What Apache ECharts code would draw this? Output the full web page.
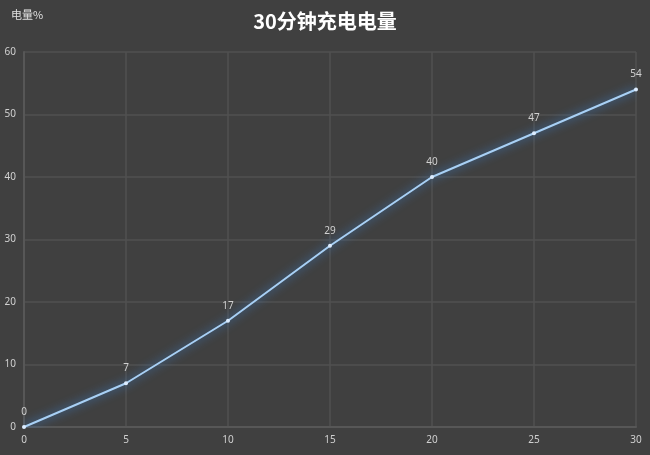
<!DOCTYPE html>
<html><head><meta charset="utf-8">
<script src="https://cdn.jsdelivr.net/npm/echarts@6/dist/echarts.min.js"></script>
<style>html,body{margin:0;padding:0;background:#404040;}#c{width:650px;height:455px;}</style>
</head><body><div id="c"></div>
<script>
const minutes = [0, 5, 10, 15, 20, 25, 30];
const charge = [0, 7, 17, 29, 40, 47, 54];
const title = '30分钟充电电量';
const yName = '电量%';

const chart = echarts.init(document.getElementById('c'));
chart.setOption({
  backgroundColor: '#404040',
  animation: false,
  title: {
    text: title, left: 'center', top: 6,
    textStyle: {color: '#ffffff', fontSize: 20, fontWeight: 'bold', fontFamily: 'Noto Sans CJK SC'}
  },
  grid: {left: 24, right: 14, top: 52, bottom: 28},
  xAxis: {
    type: 'value', min: 0, max: 30, interval: 5,
    axisLine: {show: true, lineStyle: {color: '#575757', width: 2}},
    axisTick: {show: false},
    splitLine: {show: true, lineStyle: {color: '#515151', width: 1.5}},
    axisLabel: {color: '#d0d0d0', fontSize: 10, margin: 8, fontFamily: 'Noto Sans'}
  },
  yAxis: {
    type: 'value', min: 0, max: 60, interval: 10,
    name: yName, nameLocation: 'end', nameGap: 32,
    nameTextStyle: {color: '#e0e0e0', fontSize: 11, align: 'left', padding: [0, 0, 0, -13], fontFamily: 'Noto Sans CJK SC'},
    axisLine: {show: true, lineStyle: {color: '#575757', width: 2}},
    axisTick: {show: false},
    splitLine: {show: true, lineStyle: {color: '#515151', width: 1.5}},
    axisLabel: {color: '#d0d0d0', fontSize: 10, margin: 8, fontFamily: 'Noto Sans'}
  },
  series: [{
    type: 'line',
    data: minutes.map((m, i) => [m, charge[i]]),
    symbol: 'circle', symbolSize: 4,
    itemStyle: {color: '#dcecff'},
    lineStyle: {color: '#a8d0f5', width: 2, shadowColor: 'rgba(60,140,230,1)', shadowBlur: 10},
    label: {show: true, position: 'top', color: '#d0d0d0', fontSize: 10, distance: 8, fontFamily: 'Noto Sans'}
  }]
});
</script></body></html>
